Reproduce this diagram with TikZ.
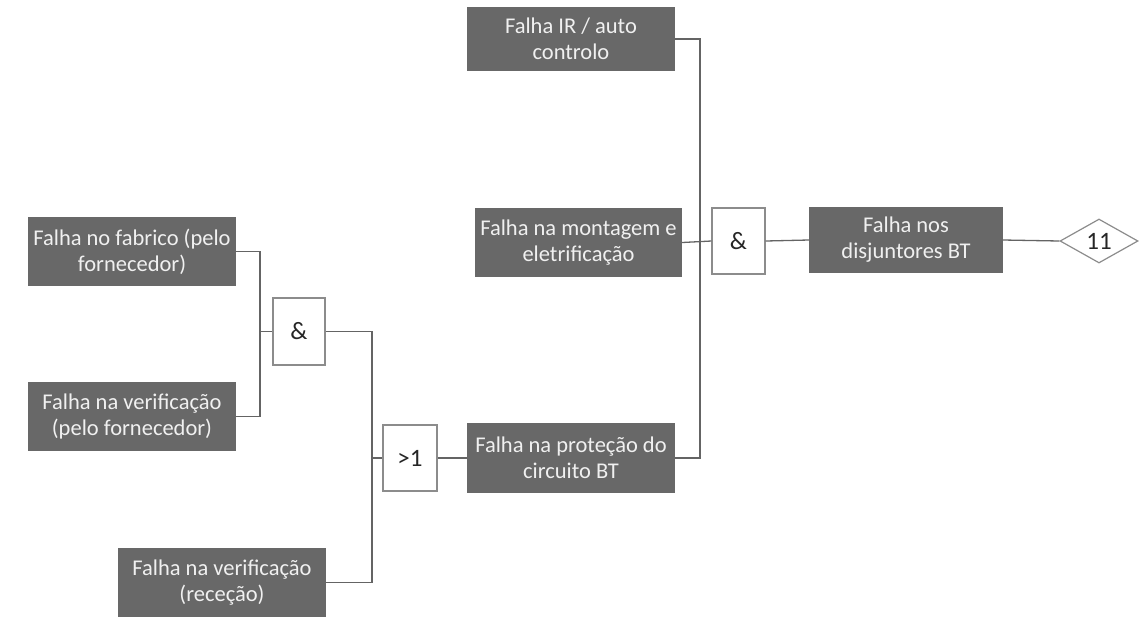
\documentclass[tikz,border=0pt]{standalone}
\usepackage{fontspec}
\setmainfont{Carlito}
\usetikzlibrary{shapes.geometric}

\definecolor{boxgray}{RGB}{104,104,104}
\definecolor{boxtext}{RGB}{240,240,240}
\definecolor{wiregray}{RGB}{100,100,100}
\definecolor{gateedge}{RGB}{140,140,140}

\tikzset{
    event/.style={fill=boxgray, text=boxtext, align=center, inner sep=0pt,
        minimum width=208, minimum height=69,
        font=\fontsize{22.5}{26}\selectfont},
    gate/.style={draw=gateedge, line width=1.2pt, fill=white, inner sep=0pt,
        minimum width=53, minimum height=66, text=black!85,
        font=\fontsize{25}{28}\selectfont},
    wire/.style={draw=wiregray, line width=1.3pt},
}

\begin{document}
\begin{tikzpicture}[x=1pt, y=-1pt]
    \useasboundingbox (0,0) rectangle (1140,625);

    % basic events
    \node[event, minimum height=64] at (571, 39)(irauto) {Falha IR / auto\\controlo};
    \node[event, minimum width=207] at (578.5, 242.5)(montagem) {Falha na montagem e\\eletrificação};
    \node[event] at (132, 251.5)(fabrico) {Falha no fabrico (pelo\\fornecedor)};
    \node[event] at (132, 416.5)(verifforn) {Falha na verificação\\(pelo fornecedor)};
    \node[event] at (222, 582.5)(verifrec) {Falha na verificação\\(receção)};
    \node[event, minimum height=70] at (571, 458)(protecao) {Falha na proteção do\\circuito BT};
    \node[event, minimum width=194, minimum height=66] at (906, 240)(disjuntores) {Falha nos\\disjuntores BT};

    % gates
    \node[gate, minimum width=52, minimum height=67] at (299, 331.5)(and1) {\&};
    \node[gate, minimum width=54] at (410, 458)(or1) {>1};
    \node[gate] at (738.5, 241)(and2) {\&};

    % transfer
    \node[diamond, draw=gateedge, line width=1.2pt, fill=white, inner sep=0pt,
        minimum width=78, minimum height=44, text=black!85,
        font=\fontsize{25}{28}\selectfont]
        at (1099, 241)(ref11) {11};

    % junctions
    \coordinate (j1) at (260, 331.5);
    \coordinate (j2) at (372, 458);
    \coordinate (j3) at (700, 241);

    \draw[wire] (fabrico.east) -| (j1) |- (verifforn.east);
    \draw[wire] (j1) -- (and1.west);
    \draw[wire] (and1.east) -| (j2) |- (verifrec.east);
    \draw[wire] (j2) -- (or1.west);
    \draw[wire] (or1.east) -- (protecao.west);
    \draw[wire] (irauto.east) -| (j3) |- (protecao.east);
    \draw[wire] (montagem.east) -- (and2.west);
    \draw[wire] (and2.east) -- (disjuntores.west);
    \draw[wire] (disjuntores.east) -- (ref11.west);
\end{tikzpicture}
\end{document}
